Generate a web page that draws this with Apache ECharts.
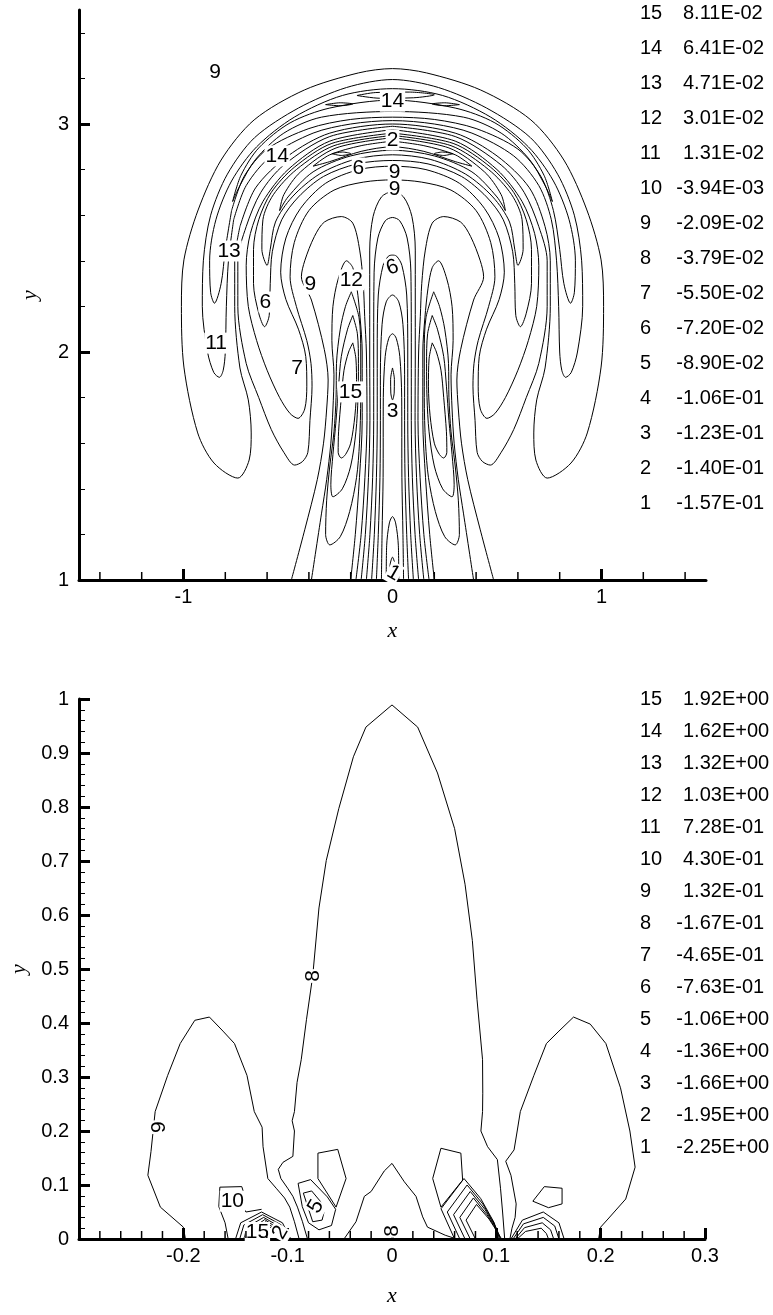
<!DOCTYPE html>
<html><head><meta charset="utf-8">
<script src="https://cdn.jsdelivr.net/npm/echarts@6/dist/echarts.min.js"></script>
<style>html,body{margin:0;padding:0;background:#fff}#c{width:773px;height:1315px}</style>
</head><body><div id="c"></div>
<script>
// ---------- tick values ----------
var topXMajor = [-1, 0, 1];
var topXMinor = [-1.4,-1.2,-0.8,-0.6,-0.4,-0.2,0.2,0.4,0.6,0.8,1.2,1.4];
var topYMajor = [1, 2, 3];
var topYMinor = [1.2,1.4,1.6,1.8,2.2,2.4,2.6,2.8,3.2,3.4];
var botXMajor = [-0.2,-0.1,0,0.1,0.2,0.3];
var botXMinor = [-0.28,-0.26,-0.24,-0.22,-0.18,-0.16,-0.14,-0.12,-0.08,-0.06,-0.04,-0.02,0.02,0.04,0.06,0.08,0.12,0.14,0.16,0.18,0.22,0.24,0.26,0.28];
var botYMajor = [0,0.1,0.2,0.3,0.4,0.5,0.6,0.7,0.8,0.9,1];
var botYMinor = [0.02,0.04,0.06,0.08,0.12,0.14,0.16,0.18,0.22,0.24,0.26,0.28,0.32,0.34,0.36,0.38,0.42,0.44,0.46,0.48,0.52,0.54,0.56,0.58,0.62,0.64,0.66,0.68,0.72,0.74,0.76,0.78,0.82,0.84,0.86,0.88,0.92,0.94,0.96,0.98];

// ---------- contour legends ----------
var topLevels = [15,14,13,12,11,10,9,8,7,6,5,4,3,2,1];
var topValues = ['8.11E-02','6.41E-02','4.71E-02','3.01E-02','1.31E-02','-3.94E-03','-2.09E-02','-3.79E-02','-5.50E-02','-7.20E-02','-8.90E-02','-1.06E-01','-1.23E-01','-1.40E-01','-1.57E-01'];
var botLevels = [15,14,13,12,11,10,9,8,7,6,5,4,3,2,1];
var botValues = ['1.92E+00','1.62E+00','1.32E+00','1.03E+00','7.28E-01','4.30E-01','1.32E-01','-1.67E-01','-4.65E-01','-7.63E-01','-1.06E+00','-1.36E+00','-1.66E+00','-1.95E+00','-2.25E+00'];

// ---------- top plot contour lines (x, y) ----------
var topP1 = [[-0.73,2.55],[-0.755,2.4],[-0.755,2.2],[-0.73,1.93],[-0.69,1.79],[-0.676,1.645],[-0.686,1.526],[-0.74,1.447],[-0.854,1.513],[-0.932,1.645],[-0.998,1.934],[-1.01,2.2],[-0.998,2.404],[-0.93,2.623],[-0.82,2.842],[-0.662,3.018],[-0.422,3.149],[-0.163,3.224],[0,3.243],[0.163,3.224],[0.422,3.149],[0.662,3.018],[0.82,2.842],[0.93,2.623],[0.998,2.404],[1.01,2.2],[0.998,1.934],[0.932,1.645],[0.854,1.513],[0.74,1.447],[0.686,1.526],[0.676,1.645],[0.69,1.79],[0.73,1.93],[0.755,2.2],[0.755,2.4],[0.73,2.55],[0.655,2.72],[0.5,2.86],[0.3,2.96],[0,3.0],[-0.3,2.96],[-0.5,2.86],[-0.655,2.72],[-0.73,2.55]];
var topP2 = [[-0.76,2.58],[-0.785,2.4],[-0.795,2.2],[-0.8,2.0],[-0.81,1.92],[-0.828,1.889],[-0.855,1.91],[-0.885,2.0],[-0.91,2.2],[-0.905,2.4],[-0.87,2.6],[-0.79,2.78],[-0.66,2.94],[-0.45,3.07],[-0.22,3.16],[0,3.195],[0.22,3.16],[0.45,3.07],[0.66,2.94],[0.79,2.78],[0.87,2.6],[0.905,2.4],[0.91,2.2],[0.885,2.0],[0.855,1.91],[0.828,1.889],[0.81,1.92],[0.8,2.0],[0.795,2.2],[0.785,2.4],[0.76,2.58],[0.7,2.73],[0.58,2.86],[0.38,2.96],[0.2,3.0],[0,3.015],[-0.2,3.0],[-0.38,2.96],[-0.58,2.86],[-0.7,2.73],[-0.76,2.58]];
var topP3 = [[-0.77,2.62],[-0.8,2.45],[-0.82,2.3],[-0.852,2.214],[-0.87,2.26],[-0.875,2.4],[-0.845,2.58],[-0.77,2.75],[-0.65,2.9],[-0.47,3.03],[-0.24,3.125],[0,3.155],[0.24,3.125],[0.47,3.03],[0.65,2.9],[0.77,2.75],[0.845,2.58],[0.875,2.4],[0.87,2.26],[0.852,2.214],[0.82,2.3],[0.8,2.45],[0.77,2.62],[0.71,2.77],[0.6,2.89],[0.4,2.98],[0.2,3.02],[0,3.03],[-0.2,3.02],[-0.4,2.98],[-0.6,2.89],[-0.71,2.77],[-0.77,2.62]];
var topP4 = [[-0.765,2.66],[-0.725,2.775],[-0.64,2.895],[-0.49,3.005],[-0.3,3.07],[0,3.105],[0.3,3.07],[0.49,3.005],[0.64,2.895],[0.725,2.775],[0.765,2.66],[0.73,2.73],[0.655,2.845],[0.52,2.96],[0.34,3.03],[0,3.055],[-0.34,3.03],[-0.52,2.96],[-0.655,2.845],[-0.73,2.73],[-0.765,2.66]];
var topI1 = [[-0.17,3.125],[-0.08,3.138],[0.08,3.14],[0.2,3.128],[0.1,3.115],[-0.06,3.113],[-0.17,3.125]];
var topI2L = [[-0.32,3.085],[-0.25,3.093],[-0.19,3.088],[-0.25,3.08],[-0.32,3.085]];
var topI2R = [[0.32,3.085],[0.25,3.093],[0.19,3.088],[0.25,3.08],[0.32,3.085]];
var topI3L = [[-0.29,2.87],[-0.24,2.877],[-0.2,2.87],[-0.245,2.862],[-0.29,2.87]];
var topI3R = [[0.29,2.87],[0.24,2.877],[0.2,2.87],[0.245,2.862],[0.29,2.87]];
var topQ0 = [[0,2.99],[-0.3,2.945],[-0.52,2.82],[-0.63,2.7],[-0.7,2.55],[-0.74,2.4],[-0.74,2.2],[-0.7,1.95],[-0.64,1.8],[-0.58,1.66],[-0.52,1.56],[-0.468,1.504],[-0.43,1.52],[-0.405,1.56],[-0.395,1.7],[-0.385,1.85],[-0.39,1.95],[-0.41,2.05],[-0.46,2.2],[-0.49,2.33],[-0.47,2.48],[-0.4,2.62],[-0.28,2.71],[-0.14,2.745],[0,2.755],[0.14,2.745],[0.28,2.71],[0.4,2.62],[0.47,2.48],[0.49,2.33],[0.46,2.2],[0.41,2.05],[0.39,1.95],[0.385,1.85],[0.395,1.7],[0.405,1.56],[0.43,1.52],[0.468,1.504],[0.52,1.56],[0.58,1.66],[0.64,1.8],[0.7,1.95],[0.74,2.2],[0.74,2.4],[0.7,2.55],[0.63,2.7],[0.52,2.82],[0.3,2.945],[0,2.99]];
var topQ2 = [[0,2.975],[-0.3,2.925],[-0.5,2.8],[-0.62,2.66],[-0.68,2.52],[-0.7,2.38],[-0.69,2.2],[-0.65,2.05],[-0.6,1.92],[-0.54,1.8],[-0.49,1.73],[-0.452,1.709],[-0.42,1.75],[-0.41,1.85],[-0.415,1.98],[-0.45,2.1],[-0.51,2.23],[-0.535,2.35],[-0.51,2.5],[-0.44,2.63],[-0.32,2.74],[-0.16,2.8],[0,2.815],[0.16,2.8],[0.32,2.74],[0.44,2.63],[0.51,2.5],[0.535,2.35],[0.51,2.23],[0.45,2.1],[0.415,1.98],[0.41,1.85],[0.42,1.75],[0.452,1.709],[0.49,1.73],[0.54,1.8],[0.6,1.92],[0.65,2.05],[0.69,2.2],[0.7,2.38],[0.68,2.52],[0.62,2.66],[0.5,2.8],[0.3,2.925],[0,2.975]];
var topQ3 = [[0,2.96],[-0.29,2.915],[-0.47,2.81],[-0.58,2.7],[-0.64,2.58],[-0.665,2.45],[-0.665,2.3],[-0.64,2.17],[-0.612,2.111],[-0.59,2.16],[-0.585,2.3],[-0.575,2.44],[-0.53,2.58],[-0.45,2.68],[-0.33,2.77],[-0.17,2.825],[0,2.84],[0.17,2.825],[0.33,2.77],[0.45,2.68],[0.53,2.58],[0.575,2.44],[0.585,2.3],[0.59,2.16],[0.612,2.111],[0.64,2.17],[0.665,2.3],[0.665,2.45],[0.64,2.58],[0.58,2.7],[0.47,2.81],[0.29,2.915],[0,2.96]];
var topQ4 = [[0,2.95],[-0.28,2.905],[-0.46,2.8],[-0.57,2.69],[-0.62,2.58],[-0.625,2.45],[-0.6,2.38],[-0.585,2.45],[-0.56,2.57],[-0.48,2.68],[-0.35,2.78],[-0.18,2.845],[0,2.865],[0.18,2.845],[0.35,2.78],[0.48,2.68],[0.56,2.57],[0.585,2.45],[0.6,2.38],[0.625,2.45],[0.62,2.58],[0.57,2.69],[0.46,2.8],[0.28,2.905],[0,2.95]];
var topQ5 = [[0,2.94],[-0.27,2.895],[-0.44,2.79],[-0.52,2.69],[-0.54,2.62],[-0.5,2.68],[-0.38,2.79],[-0.2,2.86],[0,2.885],[0.2,2.86],[0.38,2.79],[0.5,2.68],[0.54,2.62],[0.52,2.69],[0.44,2.79],[0.27,2.895],[0,2.94]];
var topQ6 = [[0,2.925],[-0.15,2.905],[-0.3,2.865],[-0.38,2.815],[-0.3,2.835],[-0.15,2.88],[0,2.9],[0.15,2.88],[0.3,2.835],[0.38,2.815],[0.3,2.865],[0.15,2.905],[0,2.925]];
var topQ1L = [[-0.484,1.0],[-0.42,1.22],[-0.36,1.44],[-0.33,1.6],[-0.315,1.75],[-0.308,1.877],[-0.326,2.01],[-0.388,2.228],[-0.436,2.33],[-0.42,2.4],[-0.374,2.506],[-0.326,2.57],[-0.245,2.594],[-0.19,2.565],[-0.157,2.447],[-0.14,2.3],[-0.133,2.155],[-0.125,2.0],[-0.122,1.7],[-0.132,1.45],[-0.15,1.2],[-0.175,1.0]];
var topQ1R = [[0.484,1.0],[0.42,1.22],[0.36,1.44],[0.33,1.6],[0.315,1.75],[0.308,1.877],[0.326,2.01],[0.388,2.228],[0.436,2.33],[0.42,2.4],[0.374,2.506],[0.326,2.57],[0.245,2.594],[0.19,2.565],[0.157,2.447],[0.14,2.3],[0.133,2.155],[0.125,2.0],[0.122,1.7],[0.132,1.45],[0.15,1.2],[0.175,1.0]];
var topR4L = [[-0.388,1.0],[-0.34,1.29],[-0.315,1.44],[-0.295,1.6],[-0.285,1.75],[-0.28,1.9],[-0.29,2.05],[-0.285,2.2],[-0.26,2.32],[-0.22,2.4],[-0.19,2.37],[-0.17,2.28],[-0.155,2.15],[-0.145,2.0],[-0.145,1.7],[-0.158,1.45],[-0.178,1.2],[-0.2,1.0]];
var topR4R = [[0.388,1.0],[0.34,1.29],[0.315,1.44],[0.295,1.6],[0.285,1.75],[0.28,1.9],[0.29,2.05],[0.285,2.2],[0.26,2.32],[0.22,2.4],[0.19,2.37],[0.17,2.28],[0.155,2.15],[0.145,2.0],[0.145,1.7],[0.158,1.45],[0.178,1.2],[0.2,1.0]];
var topR3L = [[-0.197,2.264],[-0.16,2.15],[-0.152,2.0],[-0.152,1.8],[-0.158,1.6],[-0.172,1.45],[-0.205,1.3],[-0.25,1.19],[-0.3,1.154],[-0.32,1.2],[-0.315,1.35],[-0.3,1.5],[-0.28,1.65],[-0.27,1.8],[-0.268,1.95],[-0.25,2.1],[-0.225,2.2],[-0.197,2.264]];
var topR3R = [[0.197,2.264],[0.16,2.15],[0.152,2.0],[0.152,1.8],[0.158,1.6],[0.172,1.45],[0.205,1.3],[0.25,1.19],[0.3,1.154],[0.32,1.2],[0.315,1.35],[0.3,1.5],[0.28,1.65],[0.27,1.8],[0.268,1.95],[0.25,2.1],[0.225,2.2],[0.197,2.264]];
var topR2L = [[-0.19,2.16],[-0.168,2.08],[-0.163,1.95],[-0.165,1.8],[-0.175,1.65],[-0.2,1.5],[-0.24,1.4],[-0.285,1.365],[-0.295,1.42],[-0.285,1.55],[-0.27,1.7],[-0.258,1.85],[-0.245,1.98],[-0.215,2.1],[-0.19,2.16]];
var topR2R = [[0.19,2.16],[0.168,2.08],[0.163,1.95],[0.165,1.8],[0.175,1.65],[0.2,1.5],[0.24,1.4],[0.285,1.365],[0.295,1.42],[0.285,1.55],[0.27,1.7],[0.258,1.85],[0.245,1.98],[0.215,2.1],[0.19,2.16]];
var topR1L = [[-0.19,2.04],[-0.175,1.97],[-0.172,1.85],[-0.18,1.72],[-0.2,1.6],[-0.225,1.55],[-0.245,1.535],[-0.26,1.56],[-0.258,1.65],[-0.245,1.8],[-0.232,1.92],[-0.21,2.0],[-0.19,2.04]];
var topR1R = [[0.19,2.04],[0.175,1.97],[0.172,1.85],[0.18,1.72],[0.2,1.6],[0.225,1.55],[0.245,1.535],[0.26,1.56],[0.258,1.65],[0.245,1.8],[0.232,1.92],[0.21,2.0],[0.19,2.04]];
var topC1 = [[-0.15,1.0],[-0.13,1.2],[-0.115,1.45],[-0.108,1.7],[-0.109,2.0],[-0.109,2.447],[-0.093,2.594],[-0.053,2.68],[0,2.703],[0.053,2.68],[0.093,2.594],[0.109,2.447],[0.109,2.0],[0.108,1.7],[0.115,1.45],[0.13,1.2],[0.15,1.0]];
var topC2 = [[-0.125,1.0],[-0.108,1.2],[-0.095,1.45],[-0.09,1.7],[-0.09,2.0],[-0.088,2.35],[-0.07,2.5],[-0.035,2.575],[0,2.59],[0.035,2.575],[0.07,2.5],[0.088,2.35],[0.09,2.0],[0.09,1.7],[0.095,1.45],[0.108,1.2],[0.125,1.0]];
var topC3 = [[-0.1,1.0],[-0.087,1.2],[-0.077,1.45],[-0.073,1.7],[-0.073,2.0],[-0.068,2.25],[-0.045,2.38],[-0.02,2.42],[0,2.425],[0.02,2.42],[0.045,2.38],[0.068,2.25],[0.073,2.0],[0.073,1.7],[0.077,1.45],[0.087,1.2],[0.1,1.0]];
var topC4 = [[-0.077,1.0],[-0.068,1.2],[-0.06,1.45],[-0.058,1.7],[-0.058,1.9],[-0.05,2.12],[-0.03,2.22],[0,2.25],[0.03,2.22],[0.05,2.12],[0.058,1.9],[0.058,1.7],[0.06,1.45],[0.068,1.2],[0.077,1.0]];
var topC5 = [[-0.053,1.0],[-0.05,1.2],[-0.045,1.45],[-0.044,1.8],[-0.035,1.98],[-0.018,2.06],[0,2.08],[0.018,2.06],[0.035,1.98],[0.044,1.8],[0.045,1.45],[0.05,1.2],[0.053,1.0]];
var topC6 = [[0,1.93],[0.009,1.88],[0.008,1.82],[0,1.79],[-0.008,1.82],[-0.009,1.88],[0,1.93]];
var topC7 = [[-0.03,1.0],[-0.028,1.15],[-0.015,1.25],[0,1.278],[0.015,1.25],[0.028,1.15],[0.03,1.0]];
var topC8 = [[-0.016,1.0],[-0.011,1.07],[0,1.1],[0.011,1.07],[0.016,1.0]];
// labels: x, y, text, rotation
var topLabels = [[-0.849,3.228,'9',0],[0,3.10,'14',0],[0,2.93,'2',0],[-0.552,2.86,'14',0],[-0.163,2.807,'6',0],[0.01,2.789,'9',0],[0.01,2.715,'9',0],[-0.782,2.443,'13',0],[0,2.37,'6',20],[-0.393,2.298,'9',0],[-0.197,2.316,'12',0],[-0.609,2.219,'6',0],[-0.844,2.039,'11',0],[-0.456,1.93,'7',0],[-0.201,1.825,'15',0],[0,1.741,'3',0],[0.005,1.03,'1',-30]];

// ---------- bottom plot contour lines (x, y) ----------
var botL9 = [[-0.198,0.0],[-0.2,0.022],[-0.222,0.059],[-0.234,0.118],[-0.231,0.162],[-0.227,0.236],[-0.215,0.303],[-0.203,0.362],[-0.189,0.405],[-0.175,0.411],[-0.162,0.385],[-0.151,0.362],[-0.139,0.303],[-0.132,0.236],[-0.1245,0.207],[-0.1236,0.171],[-0.119,0.112],[-0.111,0.094],[-0.103,0.076],[-0.098,0.059],[-0.0935,0.032],[-0.089,0.0]];
var botR9 = [[0.198,0.0],[0.2,0.022],[0.207,0.037],[0.224,0.074],[0.233,0.133],[0.228,0.2],[0.219,0.28],[0.205,0.362],[0.19,0.398],[0.174,0.411],[0.16,0.385],[0.148,0.362],[0.136,0.303],[0.123,0.236],[0.12,0.2],[0.117,0.165],[0.109,0.144],[0.114,0.118],[0.119,0.065],[0.118,0.04],[0.115,0.02],[0.113,0.0]];
var botC8 = [[-0.081,0.0],[-0.0858,0.032],[-0.0906,0.059],[-0.095,0.079],[-0.1,0.094],[-0.1065,0.112],[-0.109,0.129],[-0.1045,0.142],[-0.095,0.153],[-0.0935,0.2],[-0.0957,0.219],[-0.0935,0.236],[-0.091,0.29],[-0.087,0.332],[-0.082,0.406],[-0.076,0.487],[-0.07,0.613],[-0.063,0.701],[-0.051,0.797],[-0.037,0.893],[-0.025,0.948],[0,0.989],[0.0246,0.948],[0.0436,0.863],[0.06,0.76],[0.07,0.657],[0.077,0.553],[0.0815,0.443],[0.0868,0.332],[0.087,0.27],[0.0868,0.236],[0.0852,0.2],[0.0916,0.171],[0.101,0.147],[0.104,0.094],[0.106,0.05],[0.108,0.0]];
var botS8 = [[-0.046,0.0],[-0.0345,0.032],[-0.0265,0.079],[-0.02,0.088],[-0.0074,0.126],[0,0.14],[0.0118,0.106],[0.023,0.079],[0.0294,0.041],[0.034,0.022],[0.051,0.007],[0.062,0.0]];
var bot5o = [[-0.09,0.103],[-0.078,0.11],[-0.062,0.078],[-0.054,0.055],[-0.058,0.025],[-0.07,0.017],[-0.08,0.03],[-0.086,0.06],[-0.09,0.103]];
var bot5i = [[-0.085,0.085],[-0.077,0.089],[-0.064,0.059],[-0.067,0.035],[-0.076,0.032],[-0.085,0.085]];
var botUL = [[-0.071,0.159],[-0.052,0.166],[-0.044,0.112],[-0.0536,0.059],[-0.071,0.112],[-0.071,0.159]];
var botUR = [[0.0469,0.168],[0.066,0.159],[0.0677,0.109],[0.0469,0.059],[0.039,0.112],[0.0469,0.168]];
var bot10 = [[-0.125,0.055],[-0.14,0.05],[-0.145,0.065],[-0.142,0.085],[-0.144,0.097],[-0.165,0.096],[-0.166,0.06],[-0.16,0.03],[-0.157,0.0]];
var botF1 = [[-0.15,0.0],[-0.145,0.03],[-0.125,0.05],[-0.105,0.03],[-0.097,0.0]];
var botF2 = [[-0.146,0.0],[-0.142,0.026],[-0.124,0.045],[-0.106,0.026],[-0.099,0.0]];
var botF3 = [[-0.142,0.0],[-0.139,0.022],[-0.123,0.04],[-0.107,0.022],[-0.101,0.0]];
var botF4 = [[-0.138,0.0],[-0.135,0.018],[-0.122,0.036],[-0.108,0.018],[-0.103,0.0]];
var botF5 = [[-0.134,0.0],[-0.131,0.014],[-0.121,0.032],[-0.109,0.014],[-0.105,0.0]];
var botF6 = [[-0.13,0.0],[-0.127,0.01],[-0.12,0.028],[-0.11,0.01],[-0.107,0.0]];
var botA1 = [[0.06,0.0],[0.047,0.056],[0.069,0.112],[0.085,0.075],[0.098,0.03],[0.101,0.0]];
var botA2 = [[0.065,0.0],[0.053,0.05],[0.072,0.1],[0.087,0.065],[0.099,0.025],[0.102,0.0]];
var botA3 = [[0.07,0.0],[0.059,0.045],[0.075,0.088],[0.089,0.055],[0.1,0.02],[0.103,0.0]];
var botA4 = [[0.075,0.0],[0.065,0.04],[0.078,0.076],[0.091,0.045],[0.101,0.015],[0.104,0.0]];
var botA5 = [[0.08,0.0],[0.071,0.035],[0.081,0.064],[0.093,0.037],[0.102,0.01],[0.105,0.0]];
var botR10 = [[0.135,0.07],[0.146,0.097],[0.163,0.094],[0.163,0.065],[0.15,0.058],[0.135,0.07]];
var botG1 = [[0.114,0.0],[0.125,0.035],[0.145,0.05],[0.16,0.03],[0.165,0.0]];
var botG2 = [[0.116,0.0],[0.126,0.028],[0.145,0.04],[0.156,0.024],[0.16,0.0]];
var botG3 = [[0.118,0.0],[0.127,0.021],[0.144,0.03],[0.152,0.017],[0.155,0.0]];
var botG4 = [[0.12,0.0],[0.128,0.014],[0.143,0.02],[0.148,0.01],[0.15,0.0]];
var botLabels = [[-0.076,0.487,'8',90],[-0.223,0.207,'9',90],[-0.153,0.07,'10',0],[-0.129,0.012,'15',0],[-0.107,0.012,'2',60],[-0.073,0.06,'5',60],[0,0.015,'8',90]];

var topCurves = [topP1,topP2,topP3,topP4,topI1,topI2L,topI2R,topI3L,topI3R,topQ0,topQ2,topQ3,topQ4,topQ5,topQ6,topQ1L,topQ1R,topR4L,topR4R,topR3L,topR3R,topR2L,topR2R,topR1L,topR1R,topC1,topC2,topC3,topC4,topC5,topC6,topC7,topC8];
var botCurves = [botL9,botR9,botC8,botS8,bot5o,bot5i,botUL,botUR,bot10,botF1,botF2,botF3,botF4,botF5,botF6,botA1,botA2,botA3,botA4,botA5,botR10,botG1,botG2,botG3,botG4];

var SANS = '"Liberation Sans", Arial, Helvetica, sans-serif';
var SERIF = '"Liberation Serif", "Times New Roman", serif';
var FS = 20;
var LFS = 21;

function majorX(grid, min, max, ticks, gap) {
  return {type:'value', gridIndex:grid, min:min, max:max, position:'bottom',
    axisLine:{show:true, onZero:false, lineStyle:{color:'#000', width:3}},
    axisTick:{show:true, inside:true, length:11, customValues:ticks, lineStyle:{color:'#000', width:3}},
    axisLabel:{show:true, customValues:ticks, color:'#000', fontSize:FS, fontFamily:SANS, margin:7},
    splitLine:{show:false},
    name:'x', nameLocation:'middle', nameGap:gap,
    nameTextStyle:{color:'#000', fontFamily:SERIF, fontStyle:'italic', fontSize:22}};
}
function majorY(grid, min, max, ticks, gap) {
  return {type:'value', gridIndex:grid, min:min, max:max, position:'left',
    axisLine:{show:true, onZero:false, lineStyle:{color:'#000', width:3}},
    axisTick:{show:true, inside:true, length:11, customValues:ticks, lineStyle:{color:'#000', width:3}},
    axisLabel:{show:true, customValues:ticks, color:'#000', fontSize:FS, fontFamily:SANS, margin:10},
    splitLine:{show:false},
    name:'y', nameLocation:'middle', nameGap:gap, nameRotate:90,
    nameTextStyle:{color:'#000', fontFamily:SERIF, fontStyle:'italic', fontSize:22}};
}
function minorY(grid, min, max, ticks) {
  return {type:'value', gridIndex:grid, min:min, max:max, position:'left', offset:0,
    axisLine:{show:false, onZero:false}, axisLabel:{show:false}, splitLine:{show:false},
    axisTick:{show:true, inside:true, length:6, customValues:ticks, lineStyle:{color:'#000', width:1}}};
}

var series = [];
topCurves.forEach(function (c) {
  series.push({type:'line', xAxisIndex:0, yAxisIndex:0, data:c, symbol:'none', silent:true, smooth:0.3,
    lineStyle:{color:'#000', width:1}, z:2});
});
botCurves.forEach(function (c) {
  series.push({type:'line', xAxisIndex:1, yAxisIndex:2, data:c, symbol:'none', silent:true,
    lineStyle:{color:'#000', width:1}, z:2});
});
// minor x ticks, placed on the x axis line (at the axis minimum of y)
function minorXTicks(ticks, yMin, xi, yi) {
  return {type:'scatter', xAxisIndex:xi, yAxisIndex:yi, silent:true, clip:false, z:6,
    symbol:'rect', symbolSize:[1.5,7], symbolOffset:[0,-4.5],
    itemStyle:{color:'#000', opacity:1},
    data: ticks.map(function (v) { return [v, yMin]; })};
}
series.push(minorXTicks(topXMinor, 1, 0, 0));
series.push(minorXTicks(botXMinor, 0, 1, 2));

function labelSeries(list, xi, yi) {
  return {type:'scatter', xAxisIndex:xi, yAxisIndex:yi, symbolSize:0, silent:true, z:5,
    itemStyle:{color:'#000', opacity:1},
    data: list.map(function (l) {
      return {value:[l[0], l[1]], itemStyle:{opacity:1}, label:{show:true, position:'inside', formatter:l[2], rotate:l[3],
        color:'#000', opacity:1, fontSize:LFS, fontFamily:SANS, backgroundColor:'#fff', padding:[0,1],
        textBorderWidth:0, textBorderColor:'transparent', textShadowBlur:0}};
    })};
}
series.push(labelSeries(topLabels, 0, 0));
series.push(labelSeries(botLabels, 1, 2));

// legend text drawn as graphic text
var graphics = [];
function legend(levels, values, y0, dy) {
  levels.forEach(function (lv, i) {
    var y = y0 + i * dy;
    graphics.push({type:'text', x:640, y:y, style:{text:String(lv), fill:'#000', font:FS + 'px ' + SANS, textAlign:'left', textVerticalAlign:'middle'}});
    var v = values[i];
    if (v.charAt(0) === '-') {
      graphics.push({type:'text', x:683, y:y, style:{text:'-', fill:'#000', font:FS + 'px ' + SANS, textAlign:'right', textVerticalAlign:'middle'}});
      v = v.substring(1);
    }
    graphics.push({type:'text', x:683, y:y, style:{text:v, fill:'#000', font:FS + 'px ' + SANS, textAlign:'left', textVerticalAlign:'middle'}});
  });
}
legend(topLevels, topValues, 13, 35.07);
legend(botLevels, botValues, 699, 32);

var chart = echarts.init(document.getElementById('c'), null, {renderer:'canvas'});
chart.setOption({
  animation:false,
  backgroundColor:'#fff',
  grid:[{left:79, right:67, top:10, height:570}, {left:79, right:68, top:699, height:540}],
  xAxis:[majorX(0,-1.5,1.5,topXMajor,40), majorX(1,-0.3,0.3,botXMajor,46)],
  yAxis:[majorY(0,1,3.5,topYMajor,38), minorY(0,1,3.5,topYMinor), majorY(1,0,1,botYMajor,40), minorY(1,0,1,botYMinor)],
  series:series,
  graphic:graphics
});
</script></body></html>
